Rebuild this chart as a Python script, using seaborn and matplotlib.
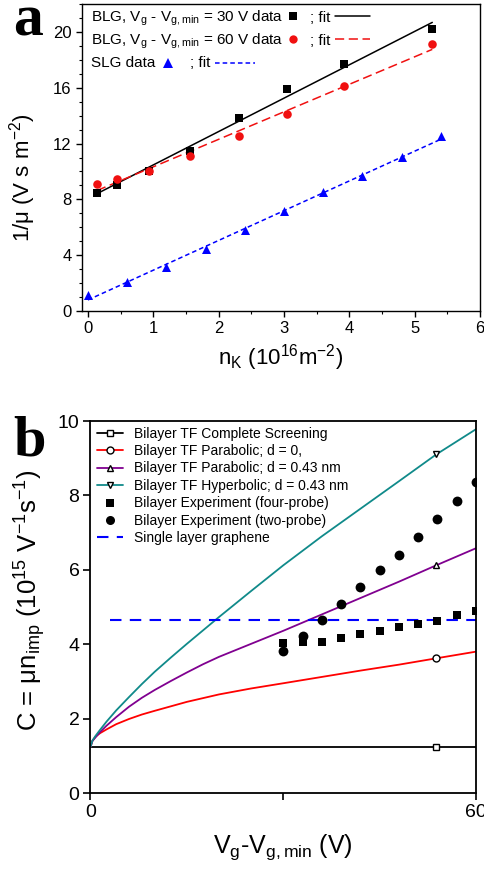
import numpy as np
import pandas as pd
import matplotlib
matplotlib.use("Agg")
import matplotlib.pyplot as plt
from matplotlib.lines import Line2D
from matplotlib.ticker import MultipleLocator, FixedLocator
import seaborn as sns

# ---------------- data: panel a ----------------
nk_blg = [0.14, 0.44, 0.93, 1.56, 2.31, 3.05, 3.92, 5.27]
inv_mu_30V = [8.48, 9.03, 10.04, 11.49, 13.86, 15.94, 17.71, 20.19]
inv_mu_60V = [9.08, 9.46, 10.06, 11.11, 12.52, 14.12, 16.13, 19.12]
nk_slg = [0.0, 0.6, 1.2, 1.8, 2.4, 3.0, 3.6, 4.2, 4.8, 5.4]
inv_mu_slg = [1.15, 2.10, 3.13, 4.44, 5.78, 7.15, 8.51, 9.68, 11.02, 12.52]

legend_a_rows = [
    "BLG, V$_g$ - V$_{g,min}$ = 30 V data",
    "BLG, V$_g$ - V$_{g,min}$ = 60 V data",
    "SLG data",
]

# ---------------- data: panel b ----------------
vg_theory = [0, 0.3, 0.8, 1.5, 2.5, 4, 6, 8, 10, 12.5, 15, 17.5, 20, 25, 30, 36, 42, 48, 53.8, 60]
c_complete = [1.24] * 20
c_parab_d0 = [1.24, 1.40, 1.52, 1.61, 1.71, 1.85, 1.99, 2.11, 2.21, 2.33, 2.45, 2.55, 2.65,
              2.81, 2.95, 3.12, 3.29, 3.45, 3.62, 3.80]
c_parab_d043 = [1.24, 1.40, 1.50, 1.64, 1.81, 2.04, 2.32, 2.56, 2.77, 3.01, 3.24, 3.46, 3.66,
                4.01, 4.36, 4.80, 5.24, 5.68, 6.12, 6.58]
c_hyper_d043 = [1.24, 1.41, 1.54, 1.70, 1.92, 2.22, 2.58, 2.93, 3.26, 3.64, 4.01, 4.37, 4.73,
                5.43, 6.12, 6.90, 7.64, 8.38, 9.10, 9.78]
theory_marker_vg = 53.8

vg_exp = [30, 33, 36, 39, 42, 45, 48, 51, 54, 57, 60]
c_four_probe = [4.02, 4.05, 4.07, 4.16, 4.27, 4.35, 4.46, 4.53, 4.62, 4.78, 4.89]
c_two_probe = [3.82, 4.23, 4.65, 5.09, 5.54, 5.99, 6.41, 6.88, 7.36, 7.84, 8.35]

vg_slg = [3, 60]
c_slg = [4.65, 4.65]

labels_b = [
    "Bilayer TF Complete Screening",
    "Bilayer TF Parabolic; d = 0,",
    "Bilayer TF Parabolic; d = 0.43 nm",
    "Bilayer TF Hyperbolic; d = 0.43 nm",
    "Bilayer Experiment (four-probe)",
    "Bilayer Experiment (two-probe)",
    "Single layer graphene",
]

# ---------------- style ----------------
sns.set_theme(style="ticks")
plt.rcParams['font.family'] = ['Liberation Sans', 'DejaVu Sans']
plt.rcParams['mathtext.fontset'] = 'custom'
plt.rcParams['mathtext.rm'] = 'Liberation Sans'
plt.rcParams['mathtext.it'] = 'Liberation Sans'
plt.rcParams['mathtext.bf'] = 'Liberation Sans:bold'
for k in ['axes.edgecolor', 'text.color', 'xtick.color', 'ytick.color', 'axes.labelcolor']:
    plt.rcParams[k] = 'black'

W, H = 485, 871
fig = plt.figure(figsize=(W / 100, H / 100), dpi=100)


def axes_px(l, t, r, b):
    return fig.add_axes([l / W, 1 - b / H, (r - l) / W, (b - t) / H])


axa = axes_px(82, 4, 480, 311)
axb = axes_px(90.5, 421, 476, 793)

for ax in (axa, axb):
    for s in ax.spines.values():
        s.set_linewidth(1.0)
        s.set_color('black')
for s in axb.spines.values():
    s.set_linewidth(1.3)

# ---------------- panel a ----------------
sns.regplot(x=nk_blg, y=inv_mu_30V, ax=axa, ci=None, marker='s', color='black',
            scatter_kws=dict(s=30, linewidths=0, alpha=1, zorder=3),
            line_kws=dict(lw=1.1))
sns.regplot(x=nk_blg, y=inv_mu_60V, ax=axa, ci=None, marker='o', color='#f01010',
            scatter_kws=dict(s=38, linewidths=0, alpha=1, zorder=3),
            line_kws=dict(lw=1.1, dashes=(6, 3)))
sns.regplot(x=nk_slg, y=inv_mu_slg, ax=axa, ci=None, marker='^', color='#0000ff',
            scatter_kws=dict(s=42, linewidths=0, alpha=1, zorder=3),
            line_kws=dict(lw=1.1, dashes=(3, 2)))

axa.set_xlim(-0.09, 6)
axa.set_ylim(0, 22)
axa.xaxis.set_major_locator(MultipleLocator(1))
axa.xaxis.set_minor_locator(MultipleLocator(0.5))
axa.yaxis.set_major_locator(MultipleLocator(4))
axa.yaxis.set_minor_locator(MultipleLocator(1))
axa.tick_params(which='major', direction='out', length=4.5, width=1, labelsize=12, pad=3)
axa.tick_params(which='minor', direction='out', length=2.5, width=0.8)
axa.set_xlabel("n$_K$ (10$^{16}$m$^{-2}$)", fontsize=16, labelpad=4)
axa.set_ylabel("1/μ (V s m$^{-2}$)", fontsize=16)
axa.yaxis.set_label_coords((38 - 82) / 398, (311 - 178) / 307)


# custom legend of panel a (text + glyphs, in axes fraction)
def fx(px):
    return (px - 82) / 398


def fy(py):
    return (311 - py) / 307


ta = axa.transAxes
row_base = [21.7, 44.5, 67.0]
row_mid = [16.0, 39.3, 62.7]
for i, txt in enumerate(legend_a_rows):
    axa.text(fx(90.7), fy(row_base[i]), txt, transform=ta, fontsize=11, va='baseline', ha='left')
glyphs = [
    dict(mx=292.7, marker='s', color='black', ms=5.5, fx0=310, lx=(335, 370), ls='-'),
    dict(mx=292.7, marker='o', color='#f01010', ms=6, fx0=310, lx=(335, 370), ls=(0, (6, 3))),
    dict(mx=168.3, marker='^', color='#0000ff', ms=6.5, fx0=190, lx=(215, 255), ls=(0, (3, 2))),
]
for i, g in enumerate(glyphs):
    axa.add_line(Line2D([fx(g['mx'])], [fy(row_mid[i])], transform=ta, marker=g['marker'],
                        color=g['color'], ms=g['ms'], mew=0, ls='none', clip_on=False))
    axa.text(fx(g['fx0']), fy(row_base[i]), "; fit", transform=ta, fontsize=11, va='baseline', ha='left')
    axa.add_line(Line2D([fx(g['lx'][0]), fx(g['lx'][1])], [fy(row_mid[i])] * 2, transform=ta,
                        color=g['color'], lw=1.1, ls=g['ls'], clip_on=False))

fig.text(13 / W, 1 - 35 / H, "a", fontsize=43, fontweight='bold',
         family=['Liberation Serif', 'DejaVu Serif'], va='baseline', ha='left')

# ---------------- panel b ----------------
theory = pd.DataFrame({
    'vg': vg_theory,
    'complete': c_complete,
    'parab0': c_parab_d0,
    'parab043': c_parab_d043,
    'hyper043': c_hyper_d043,
})
curve_specs = [
    ('complete', 'black', 's'),
    ('parab0', '#ff0000', 'o'),
    ('parab043', '#800090', '^'),
    ('hyper043', '#108a8a', 'v'),
]
handles = []
mk_row = theory[theory['vg'] == theory_marker_vg]
for col, color, mk in curve_specs:
    sns.lineplot(data=theory, x='vg', y=col, ax=axb, color=color, lw=1.3,
                 estimator=None, sort=False)
    axb.plot(mk_row['vg'], mk_row[col], ls='none', marker=mk, mfc='white',
             mec='black', mew=1.0, ms=5, zorder=4)
    handles.append(Line2D([], [], color=color, lw=1.3, marker=mk, mfc='white',
                          mec='black', mew=1.0, ms=5))

sns.scatterplot(x=vg_exp, y=c_four_probe, ax=axb, marker='s', color='black', s=40,
                linewidth=0, zorder=5)
sns.scatterplot(x=vg_exp, y=c_two_probe, ax=axb, marker='o', color='black', s=50,
                linewidth=0, zorder=5)
handles.append(Line2D([], [], ls='none', marker='s', color='black', ms=6, mew=0))
handles.append(Line2D([], [], ls='none', marker='o', color='black', ms=6.5, mew=0))

sns.lineplot(x=vg_slg, y=c_slg, ax=axb, color='#0000ff', lw=1.5,
             linestyle=(0, (5.5, 4)), estimator=None)
handles.append(Line2D([], [], color='#0000ff', lw=1.5, ls=(0, (5.5, 4))))

axb.set_xlim(0, 60)
axb.set_ylim(0, 10)
axb.xaxis.set_major_locator(FixedLocator([0, 60]))
axb.xaxis.set_minor_locator(FixedLocator([30]))
axb.yaxis.set_major_locator(MultipleLocator(2))
axb.tick_params(which='major', direction='out', length=5, width=1.2, labelsize=14, pad=3)
axb.tick_params(which='minor', direction='out', length=5, width=1.2)
axb.set_xlabel("V$_g$-V$_{g,min}$ (V)", fontsize=18, labelpad=8)
axb.set_ylabel("C = μn$_{imp}$ (10$^{15}$ V$^{-1}$s$^{-1}$)", fontsize=18.5)
axb.yaxis.set_label_coords((48 - 90.5) / 385.5, (793 - 600) / 372)

leg = axb.legend(handles, labels_b, loc='upper left', bbox_to_anchor=(6.5 / 385.5, 1 - 5.5 / 372),
                 frameon=False, fontsize=10, handlelength=1.9, handletextpad=0.8,
                 labelspacing=0.25, borderpad=0, borderaxespad=0)

fig.text(13 / W, 1 - 455 / H, "b", fontsize=42, fontweight='bold',
         family=['Liberation Serif', 'DejaVu Serif'], va='baseline', ha='left')

fig.savefig("out.png", dpi=100)
